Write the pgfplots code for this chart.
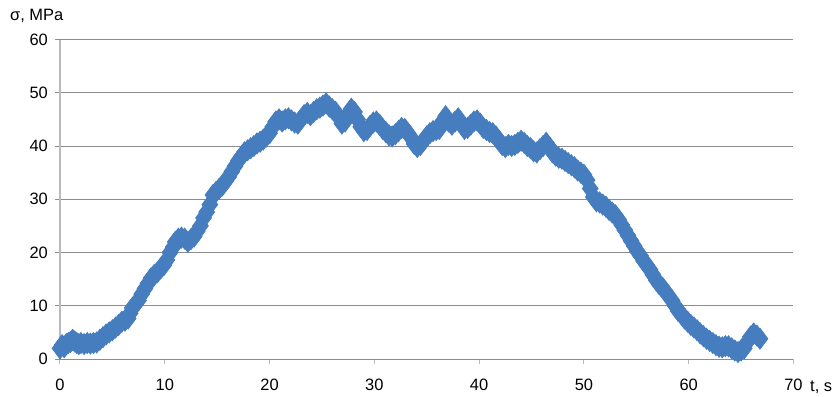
\documentclass[border=0pt]{standalone}
\usepackage{fontspec}
\setmainfont{Liberation Sans}
\usepackage{pgfplots}
\pgfplotsset{compat=1.18}
\definecolor{ser}{RGB}{70,125,190}
\definecolor{gridc}{RGB}{140,140,140}
\definecolor{axc}{RGB}{185,185,185}
\begin{document}
\begin{tikzpicture}
\path[use as bounding box] (-60bp,-38bp) rectangle (778bp,359bp);
\begin{axis}[
  at={(0,0)}, anchor=south west,
  scale only axis,
  width=733.5bp, height=319.5bp,
  xmin=0, xmax=70, ymin=0, ymax=60,
  xtick={0,10,...,70}, ytick={0,10,...,60},
  axis x line*=bottom, axis y line*=left,
  axis line style={axc, line width=1bp},
  x axis line style={gridc, line width=1bp, -},
  y axis line style={axc, line width=1.2bp, -},
  ymajorgrids, major grid style={gridc, line width=1bp},
  tick align=outside,
  major tick length=5bp,
  tick style={gridc, line width=1bp},
  xtick style={axc},
  ticklabel style={font=\fontsize{16.5}{19}\selectfont, text=black},
  /pgf/number format/assume math mode=true,
  yticklabel style={anchor=east, inner sep=0pt, xshift=-7bp},
  xticklabel style={anchor=base, inner sep=0pt, yshift=-26bp},
  clip=false,
]
\addplot[only marks, mark=diamond*, mark size=10.5bp, mark options={fill=ser, draw=ser, line width=0.8bp}, ser] coordinates {
(0,2.0) (0.2,2.6) (0.4,2.2) (0.6,2.8) (0.8,3.0) (1.0,3.2) (1.2,3.6) (1.4,3.3) (1.6,3.0) (1.8,2.8)
(2.0,3.0) (2.3,2.8) (2.6,3.0) (2.9,2.9) (3.2,3.0) (3.5,3.1) (3.8,3.6) (4.1,4.1) (4.4,4.6) (4.7,5.0)
(5.0,5.4) (5.3,5.9) (5.6,6.4) (5.9,7.0) (6.2,7.2) (6.5,7.6) (6.7,8.6) (6.9,9.6) (7.2,10.3) (7.5,11.0)
(7.8,12.2) (8.1,13.2) (8.4,14.2) (8.7,15.2) (9.0,15.8) (9.3,16.3) (9.6,17.0) (9.9,17.6) (10.2,18.6) (10.5,20.0)
(10.8,21.0) (11.0,22.0) (11.3,22.6) (11.6,22.8) (11.9,22.6) (12.2,22.0) (12.5,22.5) (12.8,23.0) (13.1,24.0) (13.4,25.0)
(13.7,26.5) (14.0,27.6) (14.3,29.0) (14.6,30.8) (14.9,31.4) (15.2,32.0) (15.5,32.6) (15.8,33.4) (16.1,34.2) (16.4,35.2)
(16.7,36.2) (17.0,37.2) (17.3,38.0) (17.6,38.8) (17.9,39.2) (18.2,39.6) (18.5,40.0) (18.8,40.5) (19.1,40.8) (19.4,41.2)
(19.7,41.8) (20.0,42.4) (20.3,43.6) (20.6,44.6) (20.9,45.0) (21.2,44.6) (21.5,45.0) (21.8,45.2) (22.1,44.8) (22.4,44.4)
(22.7,44.2) (23.0,45.0) (23.3,45.8) (23.6,46.2) (23.9,45.8) (24.2,46.4) (24.5,46.9) (24.8,47.2) (25.1,47.6) (25.4,48.0)
(25.7,47.4) (26.0,46.9) (26.3,46.4) (26.6,45.4) (26.9,44.2) (27.2,44.6) (27.5,46.0) (27.8,47.0) (28.1,46.4) (28.4,45.0)
(28.7,43.6) (29.0,42.8) (29.3,43.0) (29.6,43.8) (29.9,44.4) (30.2,44.6) (30.5,44.0) (30.8,43.2) (31.1,42.6) (31.4,42.0)
(31.7,41.8) (32.0,42.2) (32.3,42.8) (32.6,43.4) (32.9,43.2) (33.2,42.4) (33.5,41.6) (33.8,40.4) (34.1,39.8) (34.4,40.2)
(34.7,41.0) (35.0,41.8) (35.3,42.4) (35.6,42.8) (35.9,43.0) (36.2,43.2) (36.5,44.6) (36.8,45.6) (37.1,44.6) (37.4,44.0)
(37.7,44.6) (38.0,45.2) (38.3,44.2) (38.6,43.2) (38.9,43.4) (39.2,44.0) (39.5,44.6) (39.8,44.8) (40.1,44.2) (40.4,43.4)
(40.7,43.0) (41.0,42.6) (41.3,42.4) (41.6,41.8) (41.9,41.0) (42.2,40.2) (42.5,39.8) (42.8,40.2) (43.1,40.0) (43.4,40.2)
(43.7,40.6) (44.0,41.0) (44.3,40.6) (44.6,40.0) (44.9,39.6) (45.2,39.0) (45.5,38.8) (45.8,39.4) (46.1,40.0) (46.4,40.6)
(46.7,39.8) (47.0,38.8) (47.3,38.2) (47.6,37.8) (47.9,37.6) (48.2,37.2) (48.5,36.8) (48.8,36.4) (49.1,36.0) (49.4,35.4)
(49.7,35.0) (50.0,34.6) (50.3,33.6) (50.6,32.0) (50.9,30.4) (51.2,29.6) (51.5,29.4) (51.8,29.0) (52.1,28.6) (52.4,28.0)
(52.7,27.5) (53.0,27.0) (53.3,26.2) (53.6,25.2) (53.9,24.2) (54.2,23.2) (54.5,22.2) (54.8,21.2) (55.1,20.2) (55.4,19.4)
(55.7,18.4) (56.0,17.6) (56.3,16.8) (56.6,15.8) (56.9,14.8) (57.2,14.0) (57.5,13.4) (57.8,12.6) (58.1,11.8) (58.4,11.0)
(58.7,10.0) (59.0,9.0) (59.3,8.4) (59.6,7.6) (59.9,7.0) (60.2,6.4) (60.5,5.9) (60.8,5.4) (61.1,4.8) (61.4,4.3)
(61.7,3.8) (62.0,3.4) (62.3,3.0) (62.6,2.6) (62.9,2.3) (63.2,2.2) (63.5,2.4) (63.8,2.4) (64.1,2.0) (64.4,1.6)
(64.7,1.3) (65.0,1.6) (65.3,2.0) (65.6,3.2) (65.9,4.2) (66.2,4.8) (66.5,4.4) (66.8,3.8)
};
\end{axis}
\node[anchor=base west, inner sep=0pt, font=\fontsize{16.5}{19}\selectfont] at (750bp,-32bp) {t, s};
\node[anchor=base west, inner sep=0pt, font=\fontsize{16.5}{19}\selectfont] at (-50bp,338bp) {σ, MPa};
\end{tikzpicture}
\end{document}
